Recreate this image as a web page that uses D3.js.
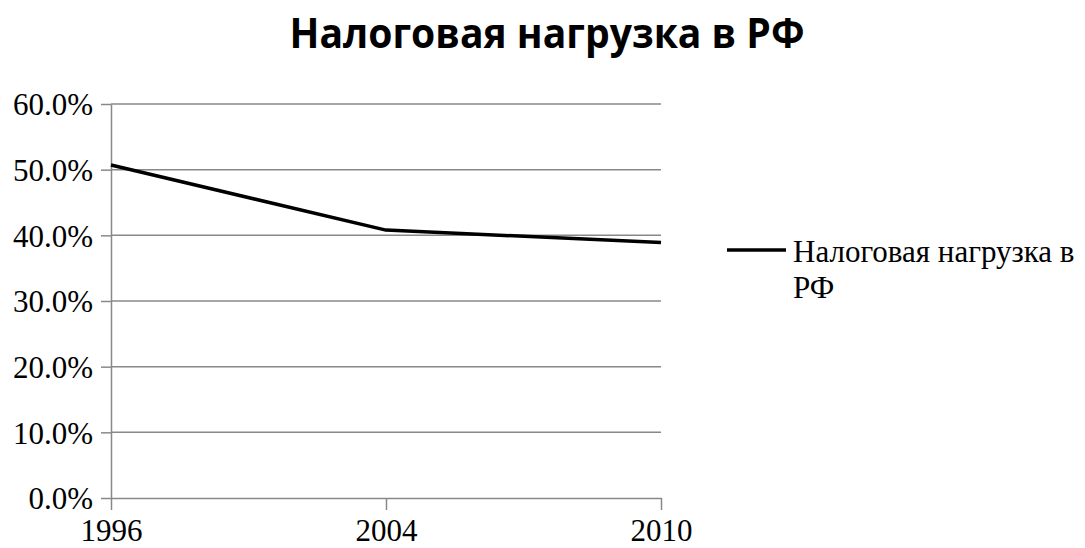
<!DOCTYPE html>
<html><head><meta charset="utf-8">
<script src="https://cdn.jsdelivr.net/npm/d3@7"></script>
<style>body{margin:0;background:#fff}svg{display:block}</style>
</head><body>
<svg id="c" width="1085" height="548"></svg>
<script>
const categories = ["1996","2004","2010"];
const values = [0.507, 0.408, 0.389];
const yTicks = [0,0.1,0.2,0.3,0.4,0.5,0.6];
const seriesName = "Налоговая нагрузка в РФ";
const title = "Налоговая нагрузка в РФ";

const svg = d3.select("#c");
const L=111, R=661, T=104, B=498;
const x = d3.scalePoint().domain(categories).range([L,R]);
const y = d3.scaleLinear().domain([0,0.6]).range([B,T]);
const grid="#888";

svg.append("text").attr("x",547).attr("y",48).attr("text-anchor","middle")
  .attr("font-family","Open Sans").attr("font-weight","bold").attr("font-size",41)
  .attr("textLength",515).attr("lengthAdjust","spacingAndGlyphs").text(title);

// gridlines
svg.append("g").selectAll("line").data(yTicks.filter(d=>d>0)).join("line")
  .attr("x1",L).attr("x2",R).attr("y1",d=>y(d)).attr("y2",d=>y(d))
  .attr("stroke",grid).attr("stroke-width",1.5);

const ya = svg.append("g").attr("transform",`translate(${L},0)`)
  .call(d3.axisLeft(y).tickValues(yTicks).tickFormat(d3.format(".1%")).tickSize(10).tickSizeOuter(0));
ya.select(".domain").attr("stroke",grid).attr("stroke-width",1.5);
ya.selectAll(".tick line").attr("stroke",grid).attr("stroke-width",1.5);
ya.selectAll(".tick text").attr("font-family","Liberation Serif").attr("font-size",31).attr("fill","#000").attr("x",-18).attr("dy","0.35em");

const xa = svg.append("g").attr("transform",`translate(0,${B})`)
  .call(d3.axisBottom(x).tickSize(12).tickSizeOuter(0));
xa.select(".domain").attr("stroke",grid).attr("stroke-width",1.5);
xa.selectAll(".tick line").attr("stroke",grid).attr("stroke-width",1.5);
xa.selectAll(".tick text").attr("font-family","Liberation Serif").attr("font-size",31).attr("fill","#000").attr("y",43).attr("dy","0");

svg.append("path").datum(values.map((v,i)=>[categories[i],v]))
  .attr("fill","none").attr("stroke","#000").attr("stroke-width",3.5).attr("stroke-linejoin","round")
  .attr("d",d3.line().x(d=>x(d[0])).y(d=>y(d[1])));

// legend
const lg = svg.append("g");
lg.append("line").attr("x1",727).attr("x2",786).attr("y1",250).attr("y2",250).attr("stroke","#000").attr("stroke-width",3.5);
const words = seriesName.split(" ");
const t = lg.append("text").attr("font-family","Liberation Serif").attr("font-size",31).attr("fill","#000");
t.append("tspan").attr("x",793).attr("y",262).text(words.slice(0,3).join(" "));
t.append("tspan").attr("x",793).attr("y",298).text(words.slice(3).join(" "));
</script>
</body></html>
